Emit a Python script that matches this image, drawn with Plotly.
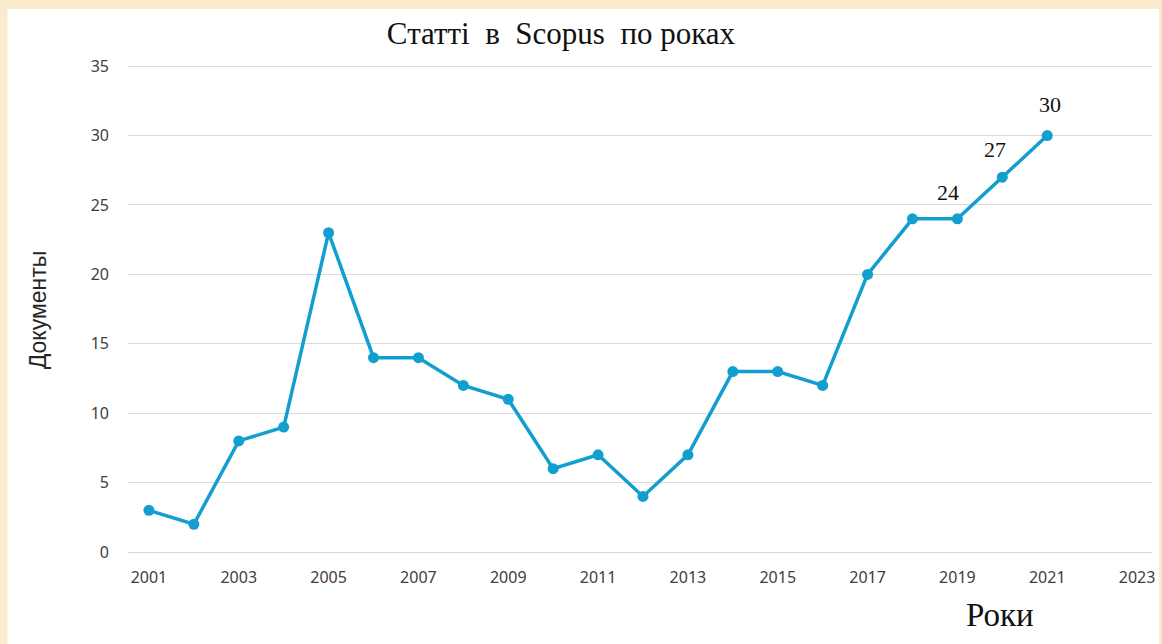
import plotly.graph_objects as go

years = list(range(2001, 2022))
documents = [3, 2, 8, 9, 23, 14, 14, 12, 11, 6, 7, 4, 7, 13, 13, 12, 20, 24, 24, 27, 30]
labeled_years = [2019, 2020, 2021]
label_shifts = [(-9, 26), (-7, 28), (3, 31)]
x_ticks = list(range(2001, 2024, 2))
y_ticks = [0, 5, 10, 15, 20, 25, 30, 35]

title_text = "Статті\u00a0\u00a0в\u00a0\u00a0Scopus\u00a0\u00a0по роках"
y_title = "Документы"
x_title = "Роки"

LINE = "#129fcf"
fig = go.Figure()
fig.add_trace(go.Scatter(
    x=years, y=documents, mode="lines+markers",
    line=dict(color=LINE, width=3.5),
    marker=dict(color=LINE, size=11),
    hoverinfo="x+y", showlegend=False,
))

L, R, T, B = 128, 7, 62, 92
W, H = 1162, 644
pw, ph = W - L - R, H - T - B

for yr, (dx, dy) in zip(labeled_years, label_shifts):
    v = documents[years.index(yr)]
    fig.add_annotation(x=yr, y=v, text=str(v), showarrow=False,
                       xshift=dx, yshift=dy,
                       font=dict(family="Liberation Serif", size=22, color="#111"))

fig.add_annotation(xref="paper", yref="paper", x=(38 - L) / pw, y=(H - B - 310) / ph,
                   xanchor="center", yanchor="middle",
                   text=y_title, textangle=-90, showarrow=False,
                   font=dict(family="Liberation Sans", size=23, color="#262626"))
fig.add_annotation(xref="paper", yref="paper", x=(1003 - L) / pw, y=0, yshift=-63,
                   xanchor="center", yanchor="middle",
                   text=x_title, showarrow=False,
                   font=dict(family="Liberation Serif", size=33, color="#111"))

fig.add_shape(type="rect", xref="paper", yref="paper", layer="below",
              x0=(7 - L) / pw, x1=(W - L) / pw, y0=-B / ph, y1=(H - B - 9) / ph,
              fillcolor="white", line=dict(width=0))

fig.update_layout(
    width=W, height=H,
    margin=dict(l=L, r=R, t=T, b=B),
    paper_bgcolor="#f9ebcc", plot_bgcolor="white",
    title=dict(text=title_text, x=561 / W, xanchor="center", xref="container",
               y=1 - 33 / H, yanchor="middle",
               font=dict(family="Liberation Serif", size=31, color="#111")),
    xaxis=dict(range=[2001 - 21 / 45.05, 2023 + 15 / 45.05], tickvals=x_ticks,
               showgrid=False, zeroline=False, showline=True, linecolor="#c8d8ef",
               linewidth=1, ticklabelstandoff=11,
               tickfont=dict(family="Noto Sans", size=16, color="#404040")),
    yaxis=dict(range=[0, 35.3], tickvals=y_ticks, showgrid=True, gridcolor="#dcdcdc",
               gridwidth=1, zeroline=False, showline=False, ticklabelstandoff=18,
               tickfont=dict(family="Noto Sans", size=16, color="#404040")),
)

fig.write_html("out.html", config={"displayModeBar": False},
               post_script="document.body.style.margin='0';document.body.style.overflow='hidden';")
